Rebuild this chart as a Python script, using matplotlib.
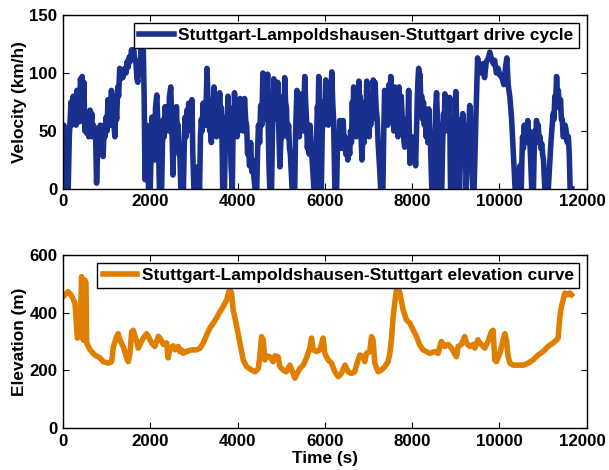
import numpy as np
import matplotlib.pyplot as plt
from matplotlib.transforms import ScaledTranslation

plt.rcParams['font.family'] = ['Liberation Sans', 'DejaVu Sans']
plt.rcParams['font.weight'] = 'bold'
plt.rcParams['axes.labelweight'] = 'bold'

# drive cycle samples: (time s, velocity km/h)
drive_cycle = [
    (0, 0), (20, 55), (40, 48), (60, 52), (80, 0), (120, 0), (145, 45), (165, 60), (185, 75),
    (200, 55), (215, 70), (235, 80), (255, 58), (275, 78), (300, 55), (320, 85), (340, 60),
    (360, 82), (380, 58), (400, 95), (420, 90), (440, 97), (460, 60), (480, 92), (500, 50),
    (525, 60), (545, 48), (570, 55), (590, 45), (620, 68), (640, 55), (660, 65), (680, 45),
    (700, 55), (720, 48), (745, 52), (770, 5), (790, 30), (810, 52), (830, 45), (855, 55),
    (875, 40), (895, 50), (920, 28), (945, 55), (965, 45), (990, 62), (1010, 50), (1030, 77),
    (1050, 60), (1070, 75), (1090, 55), (1110, 85), (1130, 65), (1150, 80), (1170, 55),
    (1190, 45), (1210, 70), (1230, 60), (1255, 88), (1275, 80), (1300, 104), (1320, 95),
    (1345, 102), (1370, 96), (1395, 100), (1420, 104), (1445, 100), (1470, 110), (1495, 105),
    (1520, 114), (1545, 110), (1570, 120), (1595, 115), (1620, 120), (1645, 112), (1670, 110),
    (1695, 95), (1715, 92), (1740, 110), (1765, 100), (1790, 122), (1815, 115), (1840, 120),
    (1860, 80), (1880, 8), (1900, 40), (1920, 55), (1940, 50), (1960, 0), (2000, 0),
    (2020, 35), (2040, 62), (2060, 40), (2080, 55), (2100, 25), (2120, 70), (2150, 81),
    (2170, 60), (2185, 45), (2210, 0), (2260, 0), (2280, 40), (2300, 60), (2320, 45),
    (2340, 71), (2360, 55), (2380, 51), (2400, 70), (2420, 50), (2440, 80), (2470, 88),
    (2490, 60), (2505, 40), (2520, 12), (2540, 45), (2560, 65), (2580, 50), (2600, 71),
    (2620, 45), (2640, 55), (2660, 30), (2680, 28), (2700, 0), (2760, 0), (2780, 40),
    (2800, 62), (2820, 45), (2840, 68), (2860, 50), (2880, 74), (2900, 55), (2920, 70),
    (2940, 50), (2955, 77), (2975, 30), (3000, 0), (3060, 0), (3080, 19), (3100, 5),
    (3130, 0), (3150, 45), (3170, 60), (3190, 50), (3210, 74), (3230, 55), (3250, 70),
    (3270, 55), (3300, 104), (3320, 80), (3340, 74), (3360, 50), (3380, 55), (3400, 40),
    (3420, 75), (3440, 60), (3460, 88), (3480, 70), (3500, 59), (3520, 45), (3540, 72),
    (3560, 55), (3590, 83), (3610, 65), (3630, 70), (3650, 30), (3660, 0), (3700, 0),
    (3720, 40), (3740, 62), (3760, 50), (3780, 80), (3800, 60), (3820, 70), (3840, 40),
    (3850, 20), (3880, 0), (3900, 60), (3915, 45), (3930, 83), (3950, 60), (3970, 70),
    (3990, 45), (4010, 66), (4030, 50), (4060, 78), (4080, 55), (4110, 72), (4130, 50),
    (4160, 78), (4185, 60), (4210, 54), (4230, 30), (4250, 38), (4275, 20), (4300, 40),
    (4325, 15), (4350, 25), (4375, 10), (4400, 0), (4440, 0), (4460, 35), (4480, 55),
    (4505, 40), (4530, 72), (4555, 55), (4580, 100), (4605, 75), (4630, 96), (4645, 70),
    (4660, 60), (4675, 85), (4690, 99), (4705, 50), (4720, 20), (4740, 0), (4780, 0),
    (4800, 50), (4830, 95), (4850, 70), (4880, 90), (4900, 60), (4920, 92), (4945, 50),
    (4970, 19), (4990, 40), (5010, 60), (5030, 45), (5050, 80), (5065, 60), (5080, 96),
    (5100, 75), (5120, 70), (5140, 45), (5170, 55), (5190, 35), (5210, 30), (5230, 15),
    (5250, 0), (5310, 0), (5330, 50), (5360, 85), (5380, 60), (5400, 65), (5415, 45),
    (5430, 82), (5455, 55), (5480, 70), (5505, 50), (5540, 97), (5560, 75), (5580, 60),
    (5600, 35), (5620, 45), (5640, 30), (5660, 55), (5680, 40), (5700, 30), (5725, 15),
    (5750, 0), (5790, 0), (5810, 45), (5830, 71), (5845, 60), (5860, 97), (5875, 40),
    (5880, 0), (5920, 0), (5940, 50), (5960, 75), (5980, 55), (6000, 70), (6020, 94),
    (6040, 70), (6060, 80), (6080, 55), (6100, 70), (6120, 60), (6140, 85), (6160, 101),
    (6180, 75), (6200, 60), (6215, 30), (6230, 0), (6270, 0), (6285, 30), (6300, 45),
    (6320, 35), (6340, 59), (6360, 40), (6380, 50), (6400, 35), (6420, 59), (6440, 40),
    (6460, 45), (6480, 30), (6500, 38), (6525, 25), (6550, 36), (6570, 30), (6590, 50),
    (6610, 40), (6630, 75), (6645, 55), (6660, 88), (6680, 60), (6700, 70), (6720, 45),
    (6740, 60), (6760, 50), (6780, 93), (6795, 70), (6810, 80), (6830, 45), (6850, 25),
    (6865, 40), (6880, 50), (6900, 40), (6920, 75), (6940, 55), (6960, 93), (6980, 65),
    (7000, 60), (7015, 45), (7030, 70), (7050, 55), (7070, 80), (7090, 60), (7110, 94),
    (7130, 70), (7150, 92), (7175, 70), (7200, 60), (7220, 40), (7240, 28), (7260, 15),
    (7280, 0), (7330, 0), (7350, 50), (7370, 85), (7390, 60), (7420, 75), (7440, 55),
    (7470, 90), (7490, 65), (7510, 97), (7535, 75), (7560, 70), (7580, 50), (7600, 88),
    (7625, 65), (7650, 60), (7675, 45), (7700, 88), (7725, 65), (7750, 80), (7775, 60),
    (7800, 50), (7815, 40), (7830, 36), (7850, 45), (7870, 60), (7895, 40), (7920, 85),
    (7935, 50), (7950, 22), (7970, 30), (7990, 45), (8015, 30), (8040, 25), (8060, 30),
    (8080, 20), (8100, 50), (8120, 80), (8135, 95), (8150, 104), (8165, 90), (8180, 99),
    (8200, 75), (8220, 80), (8240, 60), (8260, 75), (8280, 55), (8300, 69), (8320, 45),
    (8340, 55), (8360, 40), (8380, 69), (8400, 50), (8420, 40), (8435, 20), (8450, 0),
    (8500, 0), (8520, 40), (8540, 70), (8560, 83), (8580, 60), (8600, 50), (8615, 20),
    (8630, 0), (8680, 0), (8700, 40), (8720, 65), (8735, 50), (8750, 82), (8770, 60),
    (8800, 70), (8815, 50), (8830, 78), (8845, 60), (8860, 79), (8870, 30), (8880, 0),
    (8940, 0), (8955, 30), (8970, 60), (8985, 50), (9000, 84), (9015, 65), (9030, 50),
    (9040, 20), (9050, 0), (9090, 0), (9105, 30), (9120, 60), (9140, 45), (9160, 65),
    (9180, 45), (9200, 55), (9220, 30), (9240, 0), (9260, 20), (9280, 40), (9300, 55),
    (9320, 72), (9340, 55), (9360, 50), (9375, 25), (9390, 0), (9420, 0), (9440, 30),
    (9460, 60), (9480, 85), (9500, 113), (9520, 105), (9540, 105), (9580, 100), (9620, 108),
    (9660, 96), (9700, 110), (9740, 112), (9780, 118), (9820, 112), (9860, 108), (9890, 111),
    (9930, 100), (9970, 104), (10010, 98), (10050, 97), (10100, 90), (10140, 105),
    (10170, 113), (10200, 90), (10240, 79), (10280, 60), (10320, 30), (10360, 0), (10440, 0),
    (10470, 20), (10500, 0), (10515, 25), (10530, 45), (10550, 35), (10570, 55), (10590, 40),
    (10610, 48), (10630, 40), (10650, 59), (10670, 45), (10690, 50), (10720, 20), (10740, 0),
    (10780, 0), (10795, 30), (10810, 50), (10830, 40), (10850, 59), (10870, 45), (10890, 55),
    (10910, 40), (10930, 45), (10950, 35), (10970, 39), (10990, 30), (11010, 25), (11040, 0),
    (11120, 0), (11150, 20), (11180, 40), (11210, 55), (11230, 65), (11250, 60), (11270, 80),
    (11290, 75), (11310, 97), (11330, 80), (11350, 85), (11375, 70), (11400, 77), (11420, 60),
    (11440, 60), (11460, 45), (11480, 45), (11505, 55), (11530, 50), (11555, 40), (11580, 45),
    (11600, 30), (11620, 0), (11660, 0),
]
t_vel = [p[0] for p in drive_cycle]
velocity = [p[1] for p in drive_cycle]

# elevation profile samples: (time s, elevation m)
elevation_curve = [
    (0, 455), (120, 473), (200, 458), (275, 433), (330, 312), (390, 318), (427, 525),
    (466, 305), (504, 513), (527, 503), (542, 295), (620, 271), (730, 253), (850, 243),
    (925, 230), (1040, 225), (1115, 230), (1155, 282), (1230, 317), (1265, 327), (1305, 305),
    (1380, 283), (1460, 243), (1495, 230), (1535, 259), (1575, 334), (1610, 339), (1650, 318),
    (1690, 300), (1725, 277), (1765, 290), (1840, 312), (1915, 327), (1955, 318), (2030, 295),
    (2105, 283), (2185, 318), (2220, 312), (2300, 290), (2375, 295), (2410, 243), (2450, 277),
    (2525, 285), (2565, 271), (2640, 283), (2680, 265), (2720, 271), (2755, 259), (2830, 265),
    (2945, 271), (3060, 271), (3140, 277), (3215, 295), (3290, 322), (3365, 347), (3445, 364),
    (3520, 382), (3595, 403), (3670, 421), (3750, 444), (3790, 468), (3825, 482), (3860, 468),
    (3900, 409), (3975, 357), (4055, 295), (4130, 236), (4205, 213), (4320, 201), (4400, 195),
    (4475, 206), (4510, 247), (4550, 317), (4590, 305), (4625, 236), (4665, 250), (4740, 247),
    (4815, 230), (4855, 250), (4930, 247), (4970, 213), (5045, 201), (5120, 195), (5200, 218),
    (5275, 189), (5315, 173), (5350, 185), (5425, 206), (5505, 218), (5580, 243), (5655, 277),
    (5695, 312), (5735, 271), (5810, 265), (5885, 271), (5960, 312), (6000, 259), (6075, 236),
    (6155, 225), (6230, 195), (6305, 178), (6380, 189), (6460, 218), (6535, 195), (6610, 189),
    (6685, 195), (6725, 218), (6800, 253), (6875, 247), (6915, 230), (6955, 259), (7030, 265),
    (7070, 317), (7105, 305), (7145, 225), (7220, 195), (7295, 201), (7375, 213), (7450, 230),
    (7490, 259), (7525, 305), (7565, 386), (7605, 438), (7640, 479), (7680, 488), (7720, 468),
    (7795, 409), (7870, 375), (7945, 364), (8025, 340), (8100, 317), (8175, 288), (8250, 271),
    (8330, 265), (8405, 259), (8520, 265), (8595, 259), (8670, 300), (8750, 283), (8825, 290),
    (8900, 277), (9015, 247), (9055, 283), (9130, 290), (9205, 317), (9245, 295), (9320, 283),
    (9400, 290), (9435, 277), (9510, 306), (9550, 295), (9665, 277), (9740, 300), (9815, 334),
    (9855, 339), (9895, 236), (9930, 230), (10010, 259), (10085, 305), (10125, 327),
    (10160, 305), (10200, 247), (10240, 225), (10315, 218), (10430, 218), (10545, 218),
    (10660, 225), (10770, 236), (10885, 253), (11000, 265), (11115, 283), (11230, 295),
    (11305, 305), (11345, 312), (11385, 386), (11420, 421), (11460, 444), (11500, 468),
    (11575, 462), (11610, 468), (11650, 462),
]
t_elev = [p[0] for p in elevation_curve]
elevation = [p[1] for p in elevation_curve]

blue = '#19308F'
orange = '#E07E00'
fs = 12.2

fig = plt.figure(figsize=(6.09, 4.70), dpi=100)
ax1 = fig.add_axes([0.1034, 0.598, 0.860, 0.370])
ax2 = fig.add_axes([0.1034, 0.0894, 0.860, 0.368])

ax1.plot(t_vel, velocity, color=blue, lw=4.0, solid_joinstyle='round',
         label='Stuttgart-Lampoldshausen-Stuttgart drive cycle')
ax1.set_ylim(0, 150)
ax1.set_yticks([0, 50, 100, 150])
ax1.set_ylabel('Velocity (km/h)', labelpad=2)

ax2.plot(t_elev, elevation, color=orange, lw=4.0, solid_joinstyle='round',
         label='Stuttgart-Lampoldshausen-Stuttgart elevation curve')
ax2.set_ylim(0, 600)
ax2.set_yticks([0, 200, 400, 600])
ax2.set_ylabel('Elevation (m)', labelpad=2)
ax2.set_xlabel('Time (s)', labelpad=2)

# pull the last tick label in a little so it stays on the canvas
shift = ScaledTranslation(-3 / 72, 0, fig.dpi_scale_trans)

for ax in (ax1, ax2):
    ax.set_xlim(0, 12000)
    ax.set_xticks(np.arange(0, 12001, 2000))
    ax.tick_params(direction='in', top=True, right=True, length=4, width=0.8,
                   labelsize=fs, pad=4)
    for lbl in ax.get_xticklabels() + ax.get_yticklabels():
        lbl.set_fontweight('bold')
    last = ax.get_xticklabels()[-1]
    last.set_transform(last.get_transform() + shift)
    for s in ax.spines.values():
        s.set_linewidth(1.0)
    ax.yaxis.label.set_size(12.4)
    ax.xaxis.label.set_size(12.4)
    leg = ax.legend(loc='upper right', fancybox=False, edgecolor='black', framealpha=1,
                    fontsize=12.5, handlelength=2.0, handletextpad=0.25, borderpad=0.3,
                    borderaxespad=0.45)
    leg.get_frame().set_linewidth(1.0)
    for txt in leg.get_texts():
        txt.set_fontweight('bold')

fig.savefig('out.png', dpi=100)
